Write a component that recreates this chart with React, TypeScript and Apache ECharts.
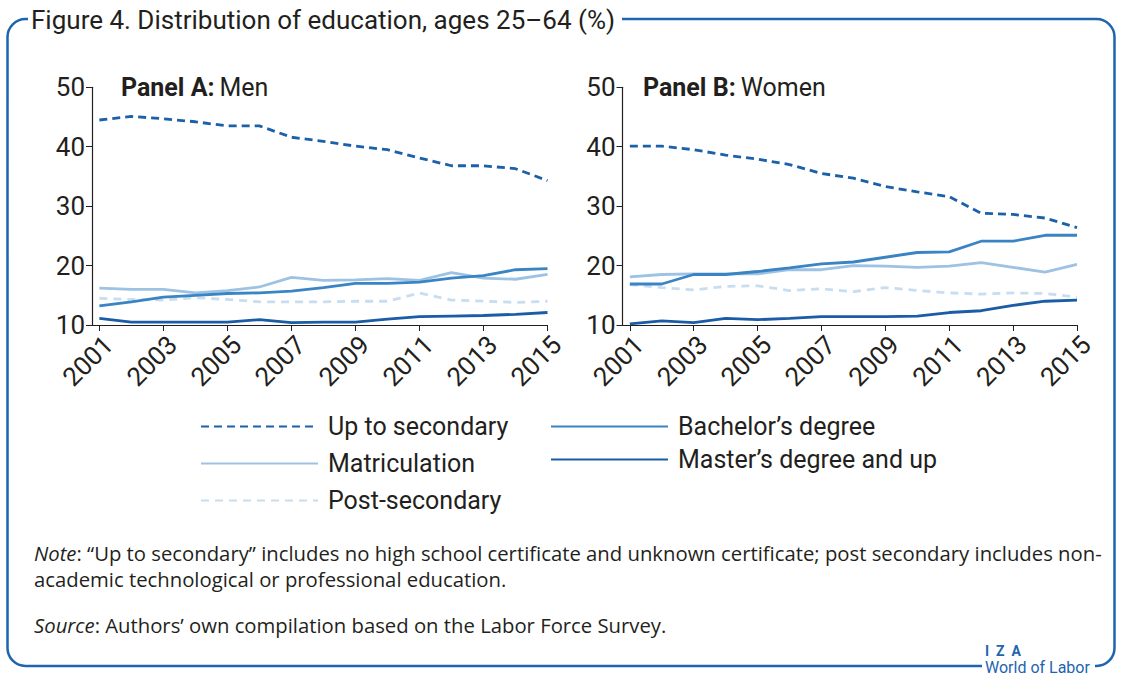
import React, { useEffect, useRef } from "react";
import * as echarts from "echarts";

const years = [2001, 2002, 2003, 2004, 2005, 2006, 2007, 2008, 2009, 2010, 2011, 2012, 2013, 2014, 2015];
const tickYears = [2001, 2003, 2005, 2007, 2009, 2011, 2013, 2015];

// Panel A: Men
const menUpToSecondary = [44.5, 45.1, 44.7, 44.2, 43.5, 43.5, 41.6, 40.9, 40.1, 39.5, 38.1, 36.8, 36.8, 36.3, 34.3];
const menMatriculation = [16.2, 16.0, 16.0, 15.4, 15.8, 16.4, 18.0, 17.5, 17.6, 17.8, 17.5, 18.8, 17.9, 17.7, 18.5];
const menBachelor = [13.2, 13.9, 14.7, 15.0, 15.3, 15.4, 15.7, 16.3, 17.0, 17.0, 17.2, 17.9, 18.3, 19.3, 19.5];
const menPostSecondary = [14.5, 14.3, 14.2, 14.6, 14.3, 13.9, 13.9, 13.9, 14.0, 14.0, 15.4, 14.2, 14.0, 13.8, 14.0];
const menMaster = [11.1, 10.5, 10.5, 10.5, 10.5, 10.9, 10.4, 10.5, 10.5, 11.0, 11.4, 11.5, 11.6, 11.8, 12.1];

// Panel B: Women
const womenUpToSecondary = [40.1, 40.1, 39.5, 38.6, 37.9, 37.0, 35.5, 34.7, 33.3, 32.4, 31.6, 28.8, 28.6, 28.0, 26.4];
const womenBachelor = [16.9, 16.9, 18.5, 18.5, 19.0, 19.6, 20.3, 20.6, 21.4, 22.2, 22.3, 24.1, 24.1, 25.1, 25.1];
const womenMatriculation = [18.1, 18.5, 18.6, 18.6, 18.6, 19.3, 19.3, 20.0, 19.9, 19.7, 19.9, 20.5, 19.7, 18.9, 20.2];
const womenPostSecondary = [16.8, 16.3, 15.9, 16.5, 16.6, 15.8, 16.1, 15.6, 16.3, 15.8, 15.4, 15.2, 15.4, 15.3, 14.7];
const womenMaster = [10.2, 10.7, 10.4, 11.1, 10.9, 11.1, 11.4, 11.4, 11.4, 11.5, 12.1, 12.4, 13.3, 14.0, 14.2];

const FONT = "Roboto, 'Noto Sans', sans-serif";
const NOTEFONT = "'Open Sans', Roboto, sans-serif";
const TXT = "#231f20";
const BLUE = "#1e64ae";

const styles: Record<string, { color: string; type: any; width: number }> = {
  "Up to secondary": { color: "#1c60aa", type: [8, 5], width: 2.8 },
  "Bachelor’s degree": { color: "#3a84c3", type: "solid", width: 2.8 },
  "Matriculation": { color: "#9dc2e3", type: "solid", width: 2.8 },
  "Master’s degree and up": { color: "#1a5ca6", type: "solid", width: 2.8 },
  "Post-secondary": { color: "#c8ddef", type: [8, 6], width: 2.8 },
};

function mk(name: string, vals: number[], idx: number) {
  const s = styles[name];
  return {
    type: "line",
    name,
    xAxisIndex: idx,
    yAxisIndex: idx,
    data: years.map((y, i) => [y, vals[i]]),
    symbol: "none",
    showSymbol: false,
    lineStyle: { color: s.color, type: s.type, width: s.width },
    itemStyle: { color: s.color },
    z: name === "Up to secondary" ? 5 : 3,
  };
}

export default function App() {
  const ref = useRef<HTMLDivElement>(null);
  useEffect(() => {
    if (!ref.current) return;
    const chart = echarts.init(ref.current, undefined, { renderer: "svg" });
    const xAxisBase = (gi: number) => ({
      type: "value",
      gridIndex: gi,
      min: 2000.77,
      max: 2015,
      axisLine: { show: true, lineStyle: { color: TXT, width: 1.2 } },
      axisTick: { show: true, customValues: tickYears, length: 6, lineStyle: { color: TXT } },
      axisLabel: {
        customValues: tickYears,
        rotate: 45,
        fontSize: 26,
        fontFamily: FONT,
        color: TXT,
        margin: 6,
        verticalAlign: "top",
        formatter: (v: number) => String(v),
      },
      splitLine: { show: false },
    });
    const yAxisBase = (gi: number) => ({
      type: "value",
      gridIndex: gi,
      min: 10,
      max: 50,
      interval: 10,
      axisLine: { show: true, lineStyle: { color: TXT, width: 1.2 } },
      axisTick: { show: true, length: 6, lineStyle: { color: TXT } },
      axisLabel: { fontSize: 26, fontFamily: FONT, color: TXT, margin: 7 },
      splitLine: { show: false },
    });

    const legendPos: [string, number, number][] = [
      ["Up to secondary", 200, 428],
      ["Matriculation", 200, 465],
      ["Post-secondary", 200, 502],
      ["Bachelor’s degree", 550, 428],
      ["Master’s degree and up", 550, 461],
    ];

    const panelRich = {
      b: { fontSize: 25, fontWeight: "bold", fontFamily: FONT, color: TXT },
      r: { fontSize: 25, fontWeight: "normal", fontFamily: FONT, color: TXT },
    };

    const option: any = {
      animation: false,
      backgroundColor: "#ffffff",
      title: [
        { text: "{b|Panel A:} {r|Men}", left: 121, top: 75, padding: 0, textStyle: { fontWeight: "normal", rich: panelRich } },
        { text: "{b|Panel B:} {r|Women}", left: 643, top: 75, padding: 0, textStyle: { fontWeight: "normal", rich: panelRich } },
      ],
      legend: legendPos.map(([n, x, y]) => ({
        data: [n],
        left: x,
        top: y - 14,
        padding: 0,
        itemWidth: 117,
        itemHeight: 14,
        selectedMode: false,
        itemStyle: { opacity: 0 },
        textStyle: { fontSize: 25, fontFamily: FONT, color: TXT, padding: [0, 0, 0, 5] },
      })),
      grid: [
        { left: 92, top: 87.3, width: 455.5, height: 237.7 },
        { left: 622.5, top: 87.3, width: 454.5, height: 237.7 },
      ],
      xAxis: [xAxisBase(0), xAxisBase(1)],
      yAxis: [yAxisBase(0), yAxisBase(1)],
      series: [
        mk("Post-secondary", menPostSecondary, 0),
        mk("Matriculation", menMatriculation, 0),
        mk("Bachelor’s degree", menBachelor, 0),
        mk("Master’s degree and up", menMaster, 0),
        mk("Up to secondary", menUpToSecondary, 0),
        mk("Post-secondary", womenPostSecondary, 1),
        mk("Matriculation", womenMatriculation, 1),
        mk("Bachelor’s degree", womenBachelor, 1),
        mk("Master’s degree and up", womenMaster, 1),
        mk("Up to secondary", womenUpToSecondary, 1),
      ],
      graphic: [
        {
          type: "rect",
          shape: { x: 7.5, y: 19, width: 1107, height: 647, r: 18 },
          style: { fill: "none", stroke: BLUE, lineWidth: 2.5 },
          z: 1,
        },
        { type: "rect", shape: { x: 28, y: 4, width: 594, height: 32 }, style: { fill: "#fff" }, z: 2 },
        {
          type: "text",
          x: 31,
          y: 20,
          style: {
            text: "Figure 4. Distribution of education, ages 25–64 (%)",
            fontSize: 26,
            fontFamily: FONT,
            fill: TXT,
            verticalAlign: "middle",
          },
          z: 3,
        },
        { type: "rect", shape: { x: 982, y: 655, width: 113, height: 20 }, style: { fill: "#fff" }, z: 2 },
        {
          type: "text",
          x: 985,
          y: 651,
          style: { text: "I  Z  A", fontSize: 14, fontWeight: "bold", fontFamily: FONT, fill: BLUE, verticalAlign: "middle" },
          z: 3,
        },
        {
          type: "text",
          x: 985,
          y: 667,
          style: { text: "World of Labor", fontSize: 16, fontFamily: FONT, fill: BLUE, verticalAlign: "middle" },
          z: 3,
        },
        {
          type: "text",
          x: 34,
          y: 553,
          style: {
            text: "{i|Note}: “Up to secondary” includes no high school certificate and unknown certificate; post secondary includes non-",
            fontSize: 20.3,
            fontFamily: NOTEFONT,
            fill: TXT,
            verticalAlign: "middle",
            rich: { i: { fontStyle: "italic", fontSize: 20.3, fontFamily: NOTEFONT, fill: TXT } },
          },
        },
        {
          type: "text",
          x: 34,
          y: 579,
          style: {
            text: "academic technological or professional education.",
            fontSize: 20.3,
            fontFamily: NOTEFONT,
            fill: TXT,
            verticalAlign: "middle",
          },
        },
        {
          type: "text",
          x: 34,
          y: 625,
          style: {
            text: "{i|Source}: Authors’ own compilation based on the Labor Force Survey.",
            fontSize: 20.3,
            fontFamily: NOTEFONT,
            fill: TXT,
            verticalAlign: "middle",
            rich: { i: { fontStyle: "italic", fontSize: 20.3, fontFamily: NOTEFONT, fill: TXT } },
          },
        },
      ],
    };
    chart.setOption(option);
    return () => chart.dispose();
  }, []);
  return (
    <div
      ref={ref}
      style={{ position: "absolute", left: 0, top: 0, width: 1121, height: 675, background: "#fff" }}
    />
  );
}
